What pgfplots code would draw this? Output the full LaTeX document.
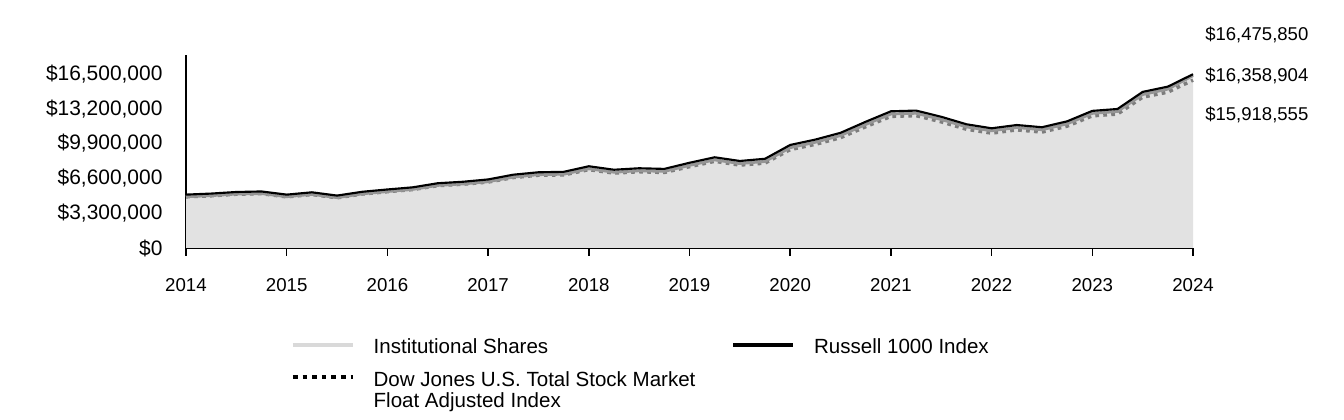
\documentclass[border=0pt]{standalone}
\usepackage{fontspec}
\setmainfont{Liberation Sans}
\usepackage{pgfplots}
\pgfplotsset{compat=1.18}
\usepackage{pgfplotstable}
\definecolor{areagray}{RGB}{226,226,226}
\definecolor{bandgray}{RGB}{150,150,150}
\definecolor{dotgray}{RGB}{125,125,125}
\definecolor{leggray}{RGB}{217,217,217}
\pgfplotstableread{
x R I D
2014.00 5060000 4870000 4850000
2014.25 5160000 4970000 4950000
2014.50 5310000 5120000 5100000
2014.75 5360000 5170000 5150000
2015.00 5060000 4870000 4850000
2015.25 5280000 5090000 5070000
2015.50 4970000 4780000 4760000
2015.75 5330000 5140000 5120000
2016.00 5550000 5360000 5340000
2016.25 5750000 5560000 5540000
2016.50 6140000 5940000 5910000
2016.75 6280000 6080000 6050000
2017.00 6500000 6290000 6250000
2017.25 6950000 6730000 6680000
2017.50 7180000 6960000 6900000
2017.75 7220000 7000000 6930000
2018.00 7750000 7520000 7430000
2018.25 7420000 7190000 7100000
2018.50 7560000 7330000 7230000
2018.75 7500000 7270000 7160000
2019.00 8080000 7840000 7710000
2019.25 8600000 8360000 8220000
2019.50 8250000 8010000 7860000
2019.75 8460000 8210000 8050000
2020.00 9770000 9520000 9330000
2020.25 10280000 10030000 9830000
2020.50 10920000 10670000 10460000
2020.75 11970000 11720000 11500000
2021.00 12960000 12710000 12480000
2021.25 13030000 12780000 12550000
2021.50 12440000 12190000 11960000
2021.75 11730000 11490000 11260000
2022.00 11350000 11120000 10890000
2022.25 11660000 11430000 11200000
2022.50 11450000 11220000 10990000
2022.75 12010000 11780000 11550000
2023.00 13000000 12770000 12530000
2023.25 13180000 12950000 12700000
2023.50 14800000 14560000 14300000
2023.75 15300000 15070000 14780000
2024.00 16475850 16358904 15918555
}\data
\begin{document}
\begin{tikzpicture}
\useasboundingbox (0,0) rectangle (1008pt,315pt);
\begin{axis}[
  at={(139.5pt,129pt)}, anchor=south west,
  scale only axis, width=755.25pt, height=144.75pt,
  xmin=2014, xmax=2024, ymin=0, ymax=18300000,
  axis x line*=bottom, axis y line*=left,
  x axis line style={line width=1.1pt, black, -},
  y axis line style={line width=1.5pt, black, -},
  tick align=outside, major tick length=6pt,
  scaled y ticks=false,
  xtick={2014,2015,2016,2017,2018,2019,2020,2021,2022,2023,2024},
  xticklabels={2014,2015,2016,2017,2018,2019,2020,2021,2022,2023,2024},
  xtick style={line width=1.1pt, black},
  ytick={0,3300000,6600000,9900000,13200000,16500000},
  yticklabels={\$0,{\$3,300,000},{\$6,600,000},{\$9,900,000},{\$13,200,000},{\$16,500,000}},
  ytick style={draw=none},
  xticklabel style={font=\fontsize{14}{16}\selectfont, anchor=north, inner sep=0pt, yshift=-17pt},
  yticklabel style={font=\fontsize{15.7}{17}\selectfont, anchor=east, inner sep=0pt, xshift=-11.5pt},
  clip=false,
  legend columns=2,
  legend style={draw=none, fill=none, inner sep=0pt, outer sep=0pt,
    at={(0.10427,-0.4715)}, anchor=north west,
    font=\fontsize{15.4}{15}\selectfont,
    column sep=0pt, row sep=12pt,
    cells={anchor=base west}, nodes={inner sep=0pt},
    /tikz/every even column/.append style={column sep=27pt}},
  legend image code/.code={\draw[#1] (0pt,7pt) -- (45pt,7pt); \path (59pt,0pt);},
]
\addplot[fill=areagray, draw=none, forget plot] table[x=x,y=I]{\data} \closedcycle;
\addplot[dotgray, line width=2.6pt, dash pattern=on 2.8pt off 3.2pt, forget plot] table[x=x,y=D]{\data};
\addplot[bandgray, line width=2.2pt, forget plot] table[x=x,y=I]{\data};
\addplot[black, line width=1.6pt, forget plot] table[x=x,y=R]{\data};

\addlegendimage{leggray, line width=3pt}
\addlegendentry{Institutional Shares}
\addlegendimage{black, line width=3pt}
\addlegendentry{Russell 1000 Index}
\addlegendimage{black, line width=3pt, dash pattern=on 3.4pt off 3.8pt}
\addlegendentry{\begin{tabular}[t]{@{}l@{}}Dow Jones U.S. Total Stock Market\\Float Adjusted Index\end{tabular}}

\node[anchor=west, inner sep=0pt, xshift=9pt, font=\fontsize{13.9}{15}\selectfont] at (axis cs:2024,20200000) {\$16,475,850};
\node[anchor=west, inner sep=0pt, xshift=9pt, font=\fontsize{13.9}{15}\selectfont] at (axis cs:2024,16310000) {\$16,358,904};
\node[anchor=west, inner sep=0pt, xshift=9pt, font=\fontsize{13.9}{15}\selectfont] at (axis cs:2024,12610000) {\$15,918,555};
\end{axis}
\end{tikzpicture}
\end{document}
